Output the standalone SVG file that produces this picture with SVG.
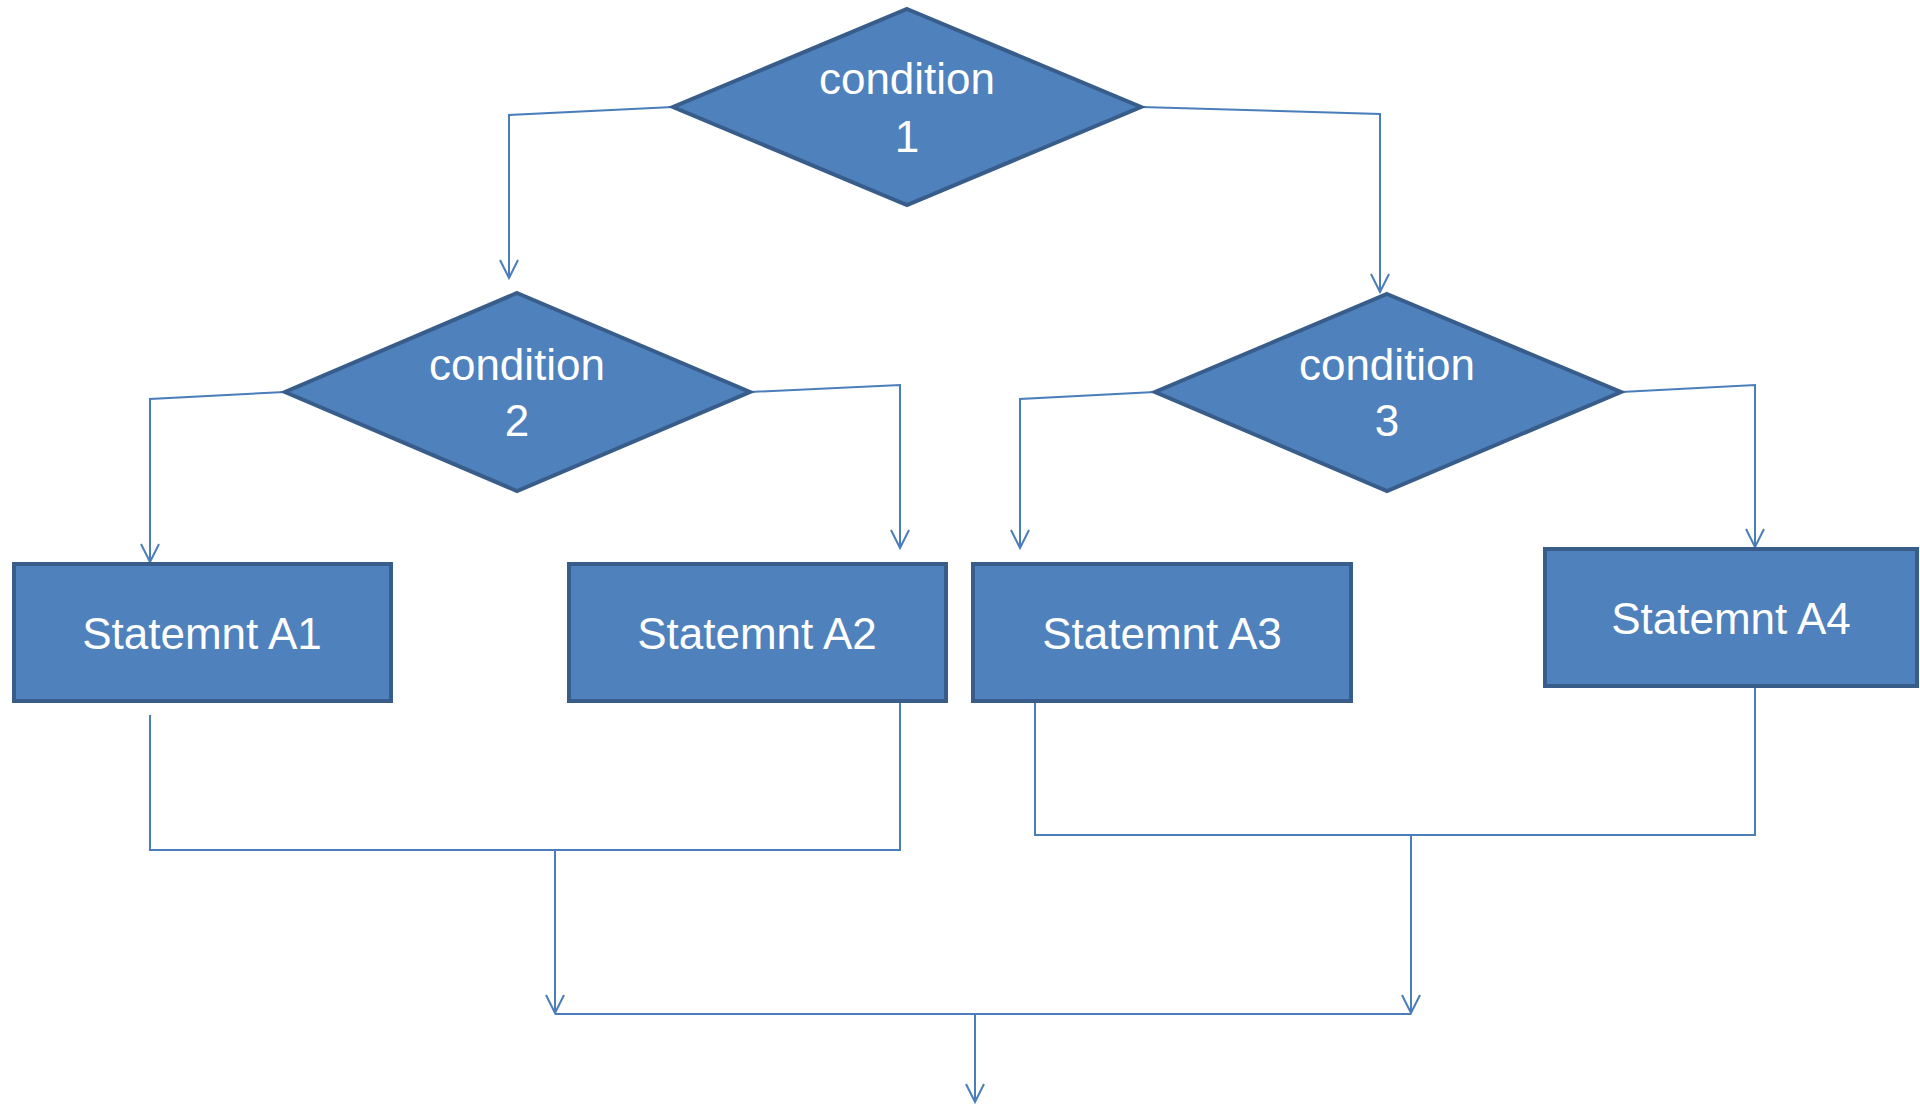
<svg xmlns="http://www.w3.org/2000/svg" width="1920" height="1104" viewBox="0 0 1920 1104">
<style>
.shape{fill:#4F81BD;stroke:#385D8A;stroke-width:4;stroke-linejoin:miter}
.lbl{fill:#FFFFFF;font-family:"Liberation Sans",Arial,sans-serif;font-size:44px;text-anchor:middle}
.conn{fill:none;stroke:#4A7EBB;stroke-width:2}
</style>
<defs>
<marker id="arr" viewBox="-20 -11 22 22" refX="0" refY="0" markerWidth="22" markerHeight="22" markerUnits="userSpaceOnUse" orient="auto" overflow="visible">
<path d="M-18,-9 L0,0 L-18,9" fill="none" stroke="#4A7EBB" stroke-width="2"/>
</marker>
</defs>
<rect width="1920" height="1104" fill="#FFFFFF"/>
<g id="connectors">
<polyline class="conn" points="673,107 509,115 509,278" marker-end="url(#arr)"/>
<polyline class="conn" points="1141,107 1380,114 1380,292" marker-end="url(#arr)"/>
<polyline class="conn" points="285,392 150,399 150,562" marker-end="url(#arr)"/>
<polyline class="conn" points="750,392 900,385 900,548" marker-end="url(#arr)"/>
<polyline class="conn" points="1155,392 1020,399 1020,548" marker-end="url(#arr)"/>
<polyline class="conn" points="1621,392 1755,385 1755,547" marker-end="url(#arr)"/>
<polyline class="conn" points="150,715 150,850 900,850 900,702"/>
<polyline class="conn" points="1035,702 1035,835 1755,835 1755,686"/>
<line class="conn" x1="555" y1="850" x2="555" y2="1013" marker-end="url(#arr)"/>
<line class="conn" x1="1411" y1="835" x2="1411" y2="1013" marker-end="url(#arr)"/>
<line class="conn" x1="555" y1="1014" x2="1411" y2="1014"/>
<line class="conn" x1="975" y1="1014" x2="975" y2="1102" marker-end="url(#arr)"/>
</g>
<g id="condition1">
<polygon class="shape" points="907,9 1141,107 907,205 673,107"/>
<text class="lbl" x="907" y="94">condition</text>
<text class="lbl" x="907" y="152">1</text>
</g>
<g id="condition2">
<polygon class="shape" points="517,293 750,392 517,491 285,392"/>
<text class="lbl" x="517" y="380">condition</text>
<text class="lbl" x="517" y="436">2</text>
</g>
<g id="condition3">
<polygon class="shape" points="1387,294 1621,392 1387,491 1155,392"/>
<text class="lbl" x="1387" y="380">condition</text>
<text class="lbl" x="1387" y="436">3</text>
</g>
<g id="statementA1">
<rect class="shape" x="14" y="564" width="377" height="137"/>
<text class="lbl" x="202" y="649">Statemnt A1</text>
</g>
<g id="statementA2">
<rect class="shape" x="569" y="564" width="377" height="137"/>
<text class="lbl" x="757" y="649">Statemnt A2</text>
</g>
<g id="statementA3">
<rect class="shape" x="973" y="564" width="378" height="137"/>
<text class="lbl" x="1162" y="649">Statemnt A3</text>
</g>
<g id="statementA4">
<rect class="shape" x="1545" y="549" width="372" height="137"/>
<text class="lbl" x="1731" y="634">Statemnt A4</text>
</g>
</svg>
